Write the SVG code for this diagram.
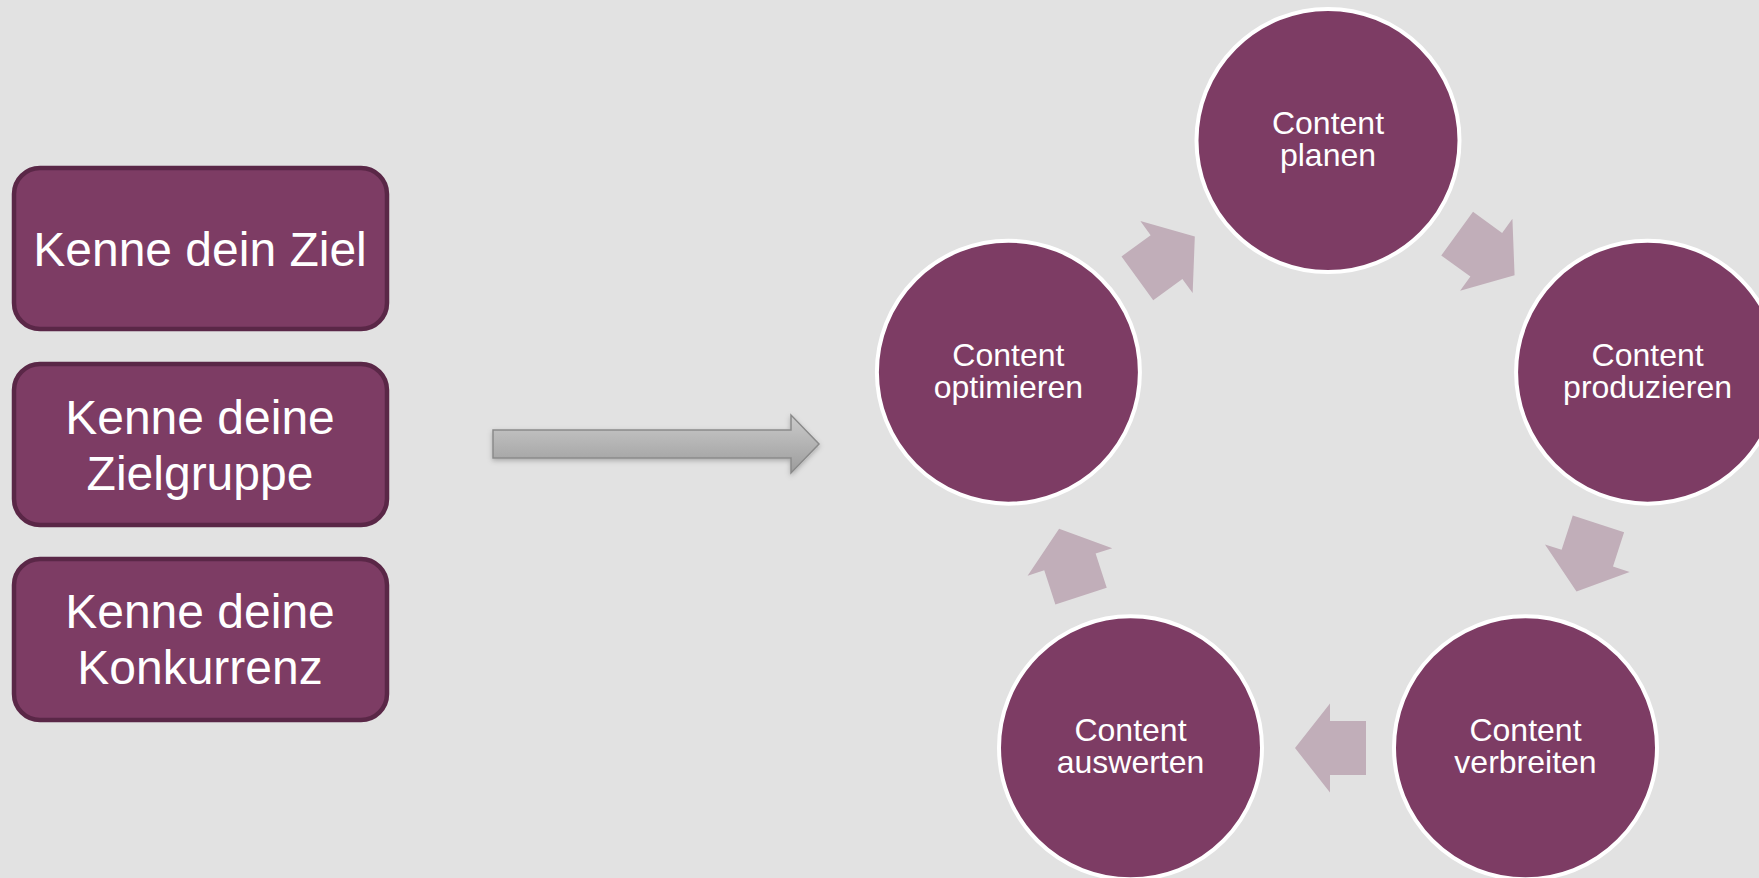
<svg xmlns="http://www.w3.org/2000/svg" width="1759" height="878" viewBox="0 0 1759 878">
  <style>
    .box { fill: #7D3C64; stroke: #5A2747; stroke-width: 4.5; }
    .boxtxt { font-family: "Liberation Sans", Arial, sans-serif; font-size: 48px; fill: #FFFFFF; text-anchor: middle; }
    .circ { fill: #7D3C64; stroke: #FFFFFF; stroke-width: 4; }
    .ctxt { font-family: "Liberation Sans", Arial, sans-serif; font-size: 32px; fill: #FFFFFF; text-anchor: middle; }
    .cyc { fill: #C1AEB9; }
  </style>
  <defs>
    <linearGradient id="gArrow" x1="0" y1="0" x2="0" y2="1">
      <stop offset="0" stop-color="#CBCBCB"/>
      <stop offset="1" stop-color="#9C9C9C"/>
    </linearGradient>
    <filter id="shadow" x="-10%" y="-50%" width="120%" height="200%">
      <feDropShadow dx="0" dy="2" stdDeviation="2.5" flood-color="#000000" flood-opacity="0.25"/>
    </filter>
    <path id="cycArrow" d="M -33,0 L 2,-44.5 L 2,-27 L 38,-27 L 38,27 L 2,27 L 2,44.5 Z"/>
  </defs>

  <rect x="0" y="0" width="1759" height="878" fill="#E2E2E2"/>

  <g id="box-ziel">
    <rect class="box" x="14" y="168" width="373" height="161" rx="26" ry="26"/>
    <text class="boxtxt" x="200" y="266">Kenne dein Ziel</text>
  </g>
  <g id="box-zielgruppe">
    <rect class="box" x="14" y="364" width="373" height="161" rx="26" ry="26"/>
    <text class="boxtxt" x="200" y="434"><tspan x="200" y="434">Kenne deine</tspan><tspan x="200" y="490">Zielgruppe</tspan></text>
  </g>
  <g id="box-konkurrenz">
    <rect class="box" x="14" y="559" width="373" height="161" rx="26" ry="26"/>
    <text class="boxtxt" x="200" y="628"><tspan x="200" y="628">Kenne deine</tspan><tspan x="200" y="684">Konkurrenz</tspan></text>
  </g>

  <g id="connectors">
    <path id="big-arrow" d="M 493,430 L 791,430 L 791,415 L 819,444 L 791,473 L 791,458 L 493,458 Z" fill="url(#gArrow)" stroke="#8A8A8A" stroke-width="1.5" filter="url(#shadow)"/>
    <g transform="translate(1328,476)">
      <use href="#cycArrow" class="cyc" transform="rotate(0) translate(0,272)"/>
      <use href="#cycArrow" class="cyc" transform="rotate(72) translate(0,272)"/>
      <use href="#cycArrow" class="cyc" transform="rotate(144) translate(0,272)"/>
      <use href="#cycArrow" class="cyc" transform="rotate(216) translate(0,272)"/>
      <use href="#cycArrow" class="cyc" transform="rotate(288) translate(0,272)"/>
    </g>
  </g>

  <g id="c-planen">
    <circle class="circ" cx="1328" cy="140.5" r="131.5"/>
    <text class="ctxt"><tspan x="1328" y="134">Content</tspan><tspan x="1328" y="166">planen</tspan></text>
  </g>
  <g id="c-produzieren">
    <circle class="circ" cx="1647.6" cy="372.2" r="131.5"/>
    <text class="ctxt"><tspan x="1647.6" y="365.5">Content</tspan><tspan x="1647.6" y="397.5">produzieren</tspan></text>
  </g>
  <g id="c-verbreiten">
    <circle class="circ" cx="1525.5" cy="747.8" r="131.5"/>
    <text class="ctxt"><tspan x="1525.5" y="741">Content</tspan><tspan x="1525.5" y="773">verbreiten</tspan></text>
  </g>
  <g id="c-auswerten">
    <circle class="circ" cx="1130.5" cy="747.8" r="131.5"/>
    <text class="ctxt"><tspan x="1130.5" y="741">Content</tspan><tspan x="1130.5" y="773">auswerten</tspan></text>
  </g>
  <g id="c-optimieren">
    <circle class="circ" cx="1008.4" cy="372.2" r="131.5"/>
    <text class="ctxt"><tspan x="1008.4" y="365.5">Content</tspan><tspan x="1008.4" y="397.5">optimieren</tspan></text>
  </g>
</svg>
